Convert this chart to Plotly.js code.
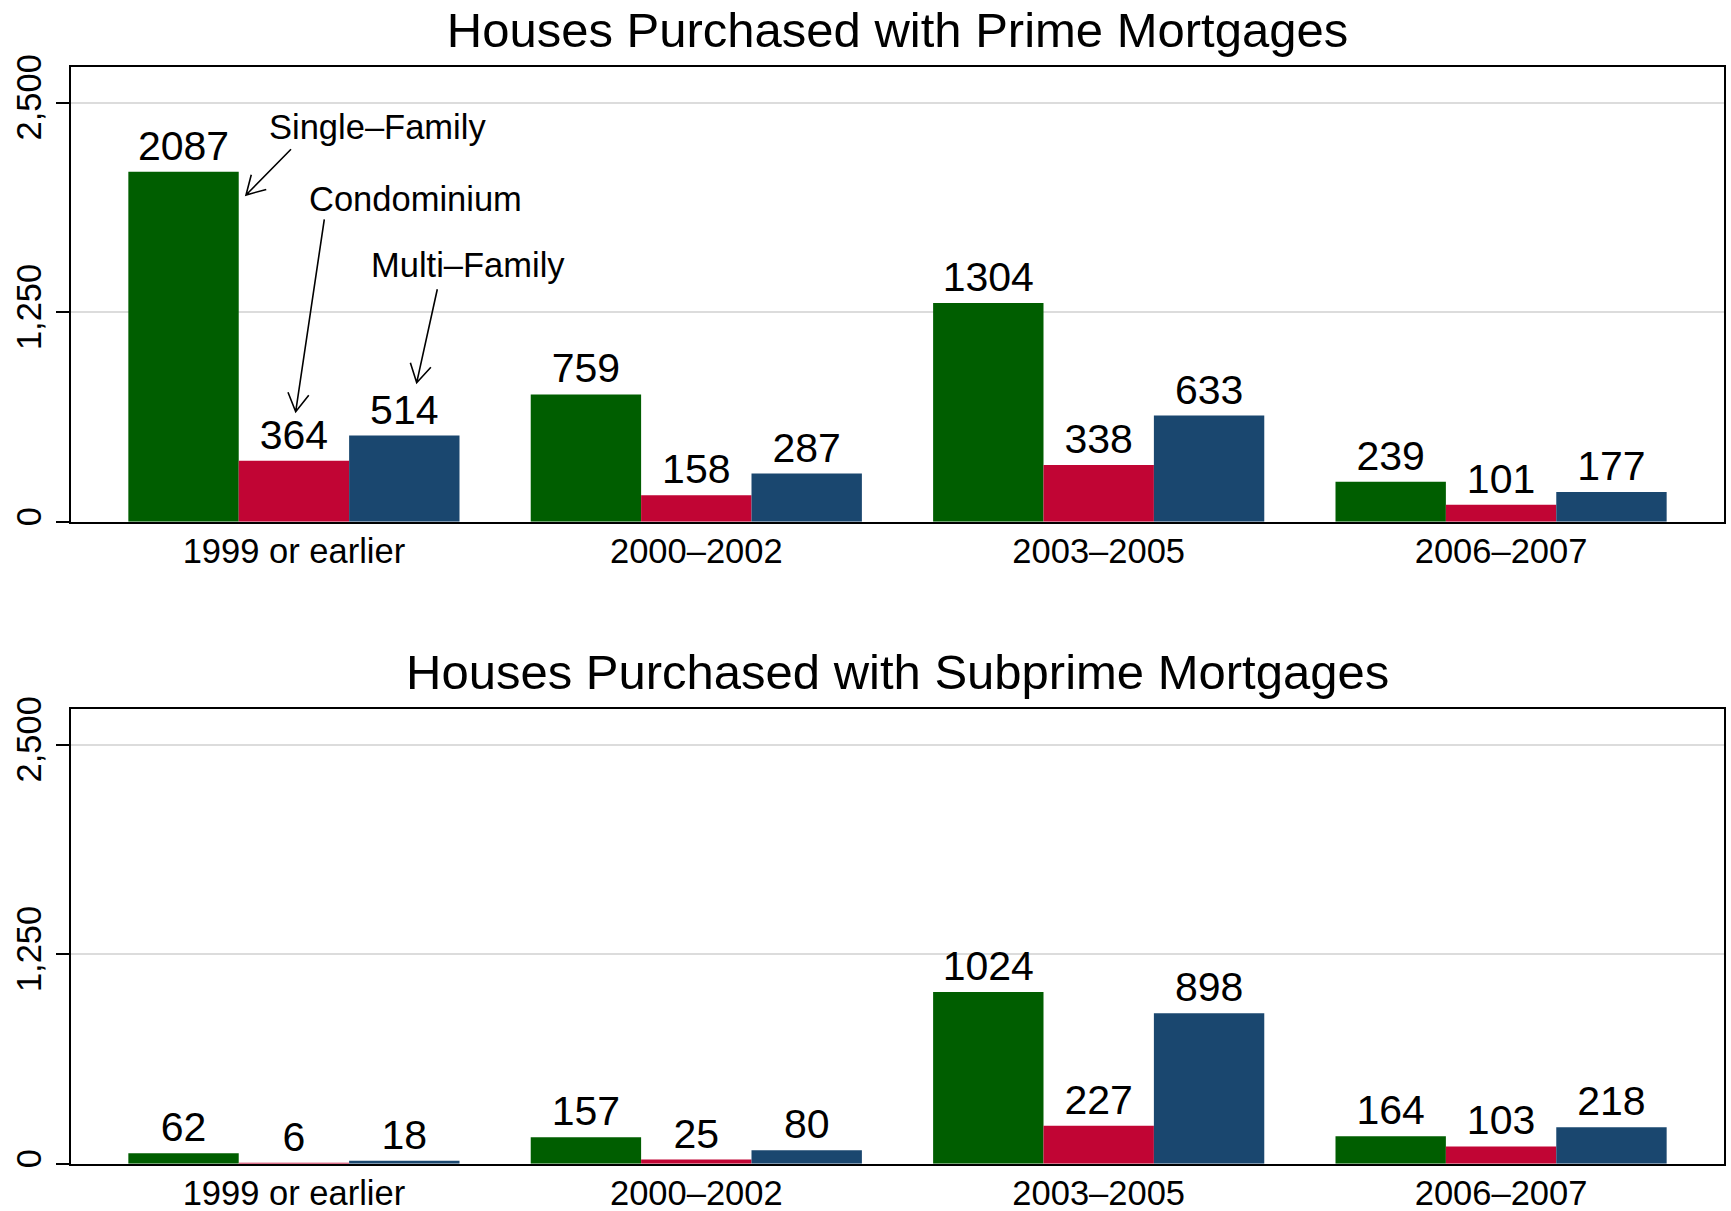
<!DOCTYPE html>
<html>
<head>
<meta charset="utf-8">
<script src="https://cdn.plot.ly/plotly-3.0.1.min.js"></script>
<style>
  html, body { margin: 0; padding: 0; background: #ffffff; }
  #chart { width: 1731px; height: 1211px; }
</style>
</head>
<body>
<div id="chart"></div>
<script>
// ---------------- data ----------------
const categories = ['1999 or earlier', '2000\u20132002', '2003\u20132005', '2006\u20132007'];
const seriesNames = ['Single\u2013Family', 'Condominium', 'Multi\u2013Family'];
const primeSingle = [2087, 759, 1304, 239];
const primeCondo  = [364, 158, 338, 101];
const primeMulti  = [514, 287, 633, 177];
const subSingle   = [62, 157, 1024, 164];
const subCondo    = [6, 25, 227, 103];
const subMulti    = [18, 80, 898, 218];
const yTickVals = [0, 1250, 2500];
const yTickText = ['0', '1,250', '2,500'];
const panelTitles = ['Houses Purchased with Prime Mortgages', 'Houses Purchased with Subprime Mortgages'];

// ---------------- style ----------------
const W = 1731, H = 1211;
const FONT = '"Liberation Sans", Arial, Helvetica, sans-serif';
const colors = ['#005e00', '#c10534', '#1a476f'];
const px = x => x / W;
const py = y => 1 - y / H;

function barTrace(vals, s, xa, ya) {
  return {
    type: 'bar', x: categories, y: vals, name: seriesNames[s],
    xaxis: xa, yaxis: ya,
    marker: { color: colors[s], line: { width: 0 } },
    text: vals.map(v => String(v)), textposition: 'outside',
    textfont: { family: FONT, size: 41, color: '#000000' },
    constraintext: 'none', cliponaxis: false,
    hoverinfo: 'skip', showlegend: false
  };
}

const data = [
  barTrace(primeSingle, 0, 'x', 'y'),
  barTrace(primeCondo, 1, 'x', 'y'),
  barTrace(primeMulti, 2, 'x', 'y'),
  barTrace(subSingle, 0, 'x2', 'y2'),
  barTrace(subCondo, 1, 'x2', 'y2'),
  barTrace(subMulti, 2, 'x2', 'y2')
];

const xDomain = [71 / W, 1724 / W];
const xAxisBase = {
  type: 'category', range: [-0.554, 3.554], domain: xDomain,
  showline: true, linecolor: '#000000', linewidth: 2, mirror: true,
  ticks: '', showgrid: false, zeroline: false, automargin: false,
  tickfont: { family: FONT, size: 34.5, color: '#000000' },
  ticklabelstandoff: -2, fixedrange: true
};
const yAxisBase = {
  range: [0, 2710], tickvals: yTickVals, ticktext: yTickText,
  showline: true, linecolor: '#000000', linewidth: 2, mirror: true,
  ticks: 'outside', ticklen: 13, tickwidth: 2, tickcolor: '#000000',
  tickangle: -90, showgrid: true, gridcolor: '#dcdcdc', gridwidth: 2,
  zeroline: false, automargin: false,
  tickfont: { family: FONT, size: 34.5, color: '#000000' },
  ticklabelstandoff: 1, fixedrange: true
};

// label annotations (decoration positions in pixels)
const labelSpecs = [
  { text: seriesNames[0], x: 377.5, y: 126.5, tail: [291, 149.3], head: [246, 195] },
  { text: seriesNames[1], x: 415, y: 198.5, tail: [324.3, 219.3], head: [295.7, 411.7] },
  { text: seriesNames[2], x: 467.5, y: 265, tail: [437.3, 289.3], head: [416.7, 382.7] }
];

function arrowPath(t, h) {
  const dx = t[0] - h[0], dy = t[1] - h[1];
  const L = Math.hypot(dx, dy), ux = dx / L, uy = dy / L;
  const arm = 21, a = Math.PI / 6;
  const c = Math.cos(a), s = Math.sin(a);
  const a1 = [h[0] + arm * (ux * c - uy * s), h[1] + arm * (ux * s + uy * c)];
  const a2 = [h[0] + arm * (ux * c + uy * s), h[1] + arm * (-ux * s + uy * c)];
  const P = p => px(p[0]).toFixed(5) + ',' + py(p[1]).toFixed(5);
  return 'M' + P(t) + ' L' + P(h) + ' M' + P(a1) + ' L' + P(h) + ' L' + P(a2);
}

const annotations = [];
labelSpecs.forEach(l => {
  annotations.push({
    xref: 'paper', yref: 'paper', x: px(l.x), y: py(l.y),
    xanchor: 'center', yanchor: 'middle', showarrow: false,
    text: l.text, font: { family: FONT, size: 34.5, color: '#000000' }
  });
});
annotations.push({
  xref: 'paper', yref: 'paper', x: px(897.5), y: py(671.5),
  xanchor: 'center', yanchor: 'middle', showarrow: false,
  text: panelTitles[1], font: { family: FONT, size: 49, color: '#000000' }
});

const shapes = labelSpecs.map(l => ({
  type: 'path', xref: 'paper', yref: 'paper', layer: 'above',
  path: arrowPath(l.tail, l.head),
  line: { color: '#000000', width: 1.6 }
}));

const layout = {
  width: W, height: H,
  margin: { l: 0, r: 0, t: 0, b: 0, pad: 0 },
  paper_bgcolor: '#ffffff', plot_bgcolor: '#ffffff',
  font: { family: FONT, color: '#000000' },
  title: {
    text: panelTitles[0], x: px(897.5), xanchor: 'center', xref: 'paper',
    y: py(29.5), yanchor: 'middle', yref: 'container',
    font: { family: FONT, size: 49, color: '#000000' }
  },
  barmode: 'group', bargap: 0.177, bargroupgap: 0,
  showlegend: false,
  xaxis: Object.assign({}, xAxisBase, { anchor: 'y' }),
  yaxis: Object.assign({}, yAxisBase, { anchor: 'x', domain: [1 - 521.7 / H, 1 - 67.3 / H] }),
  xaxis2: Object.assign({}, xAxisBase, { anchor: 'y2' }),
  yaxis2: Object.assign({}, yAxisBase, { anchor: 'x2', domain: [1 - 1163.7 / H, 1 - 709.3 / H] }),
  annotations: annotations,
  shapes: shapes
};

Plotly.newPlot('chart', data, layout, { staticPlot: true, displayModeBar: false });
</script>
</body>
</html>
